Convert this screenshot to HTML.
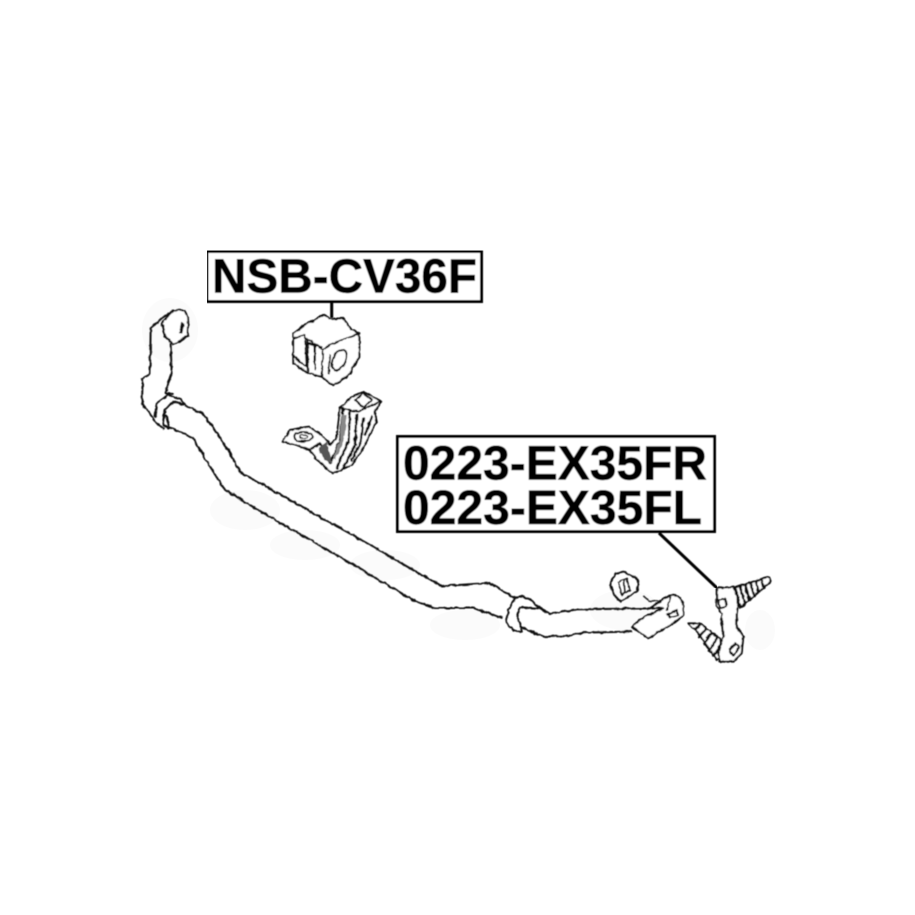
<!DOCTYPE html>
<html><head><meta charset="utf-8"><style>
html,body{margin:0;padding:0;background:#fff}
svg{display:block}
text{font-family:"Liberation Sans",Arial,sans-serif;font-weight:bold;font-size:48px;fill:#000;stroke:#000;stroke-width:.5}
.l{fill:none;stroke:#111;stroke-width:6;stroke-linejoin:round;stroke-linecap:round}
.d{fill:none;stroke:#111;stroke-width:8;stroke-linejoin:round;stroke-linecap:round}
.f{fill:#fff;stroke:#111;stroke-width:6;stroke-linejoin:round}
.t{fill:none;stroke:#111;stroke-width:4;stroke-linejoin:round;stroke-linecap:round}
.r{fill:none;stroke:#111;stroke-width:2;stroke-linejoin:round;stroke-linecap:round}
</style></head><body>
<svg width="915" height="915" viewBox="0 0 915 915" xmlns="http://www.w3.org/2000/svg">
<defs>
<filter id="b" x="0" y="0" width="100%" height="100%"><feGaussianBlur stdDeviation="0.45"/></filter>
<filter id="j" x="0" y="0" width="100%" height="100%" filterUnits="userSpaceOnUse" primitiveUnits="userSpaceOnUse">
<feTurbulence type="fractalNoise" baseFrequency="0.18" numOctaves="2" seed="4" result="n"/>
<feDisplacementMap in="SourceGraphic" in2="n" scale="3" xChannelSelector="R" yChannelSelector="G"/>
<feGaussianBlur stdDeviation="0.4"/>
</filter>
</defs>
<rect width="915" height="915" fill="#fff"/>
<g fill="#fbfbfb">
<ellipse cx="170" cy="330" rx="28" ry="32"/><ellipse cx="245" cy="510" rx="35" ry="20"/><ellipse cx="305" cy="545" rx="35" ry="15"/><ellipse cx="385" cy="565" rx="35" ry="15"/><ellipse cx="465" cy="625" rx="35" ry="15"/><ellipse cx="625" cy="610" rx="35" ry="20"/><ellipse cx="760" cy="630" rx="15" ry="20"/>
</g>

<g filter="url(#j)">
<!-- left arm, bushing, bracket -->
<g transform="translate(130 240) scale(.33333)">
<path class="l" d="M118,222 L98,232 L62,265 L60,400 L38,415 L36,490 L60,520 L75,545 L100,565"/>
<path class="l" d="M122,312 L125,400 L105,460 L130,462"/>
<path class="f" d="M95,250 L130,210 L165,212 L175,240 L172,290 L130,312 L105,290 Z"/>
<path d="M158,248 L152,280" stroke="#111" stroke-width="10" fill="none"/>
<path class="l" d="M75,530 L80,490 L115,465 L150,478 L165,495"/>
<path class="l" d="M100,555 L105,510 L130,485 L165,495"/>
<path class="l" d="M100,555 L118,565 L108,525"/>
<!-- bushing -->
<path class="f" d="M490,280 L530,250 L555,240 L580,225 L605,236 L640,235 L665,270 L688,280 L688,350 L660,400 L630,425 L610,437 L575,410 L535,400 L490,370 Z"/>
<path class="l" d="M530,295 L580,330 L575,410"/>
<path class="l" d="M580,330 L592,318 L660,290 L688,280"/>
<path class="l" d="M490,295 L525,285 L530,380"/>
<path class="l" d="M535,310 L575,320"/>
<path class="l" d="M555,315 L555,388"/>
<path class="l" d="M490,350 L530,380"/>
<path class="l" d="M532,295 L535,395"/>
<ellipse cx="628" cy="360" rx="19" ry="33" transform="rotate(25 628 360)" class="l"/>
<path class="l" d="M600,345 L596,400"/>
</g>

<!-- bracket, crop 5 -->
<g transform="translate(275 385) scale(.33333)">
<path class="f" d="M22,170 L45,135 L100,125 L140,150 L165,180 L185,160 L195,70 L230,35 L265,20 L320,50 L300,80 L305,110 L270,180 L230,240 L175,265 L130,230 L105,195 L60,180 Z"/>
<ellipse cx="85" cy="155" rx="27" ry="14" class="l"/>
<ellipse cx="85" cy="155" rx="12" ry="6" class="t"/>
<path class="d" d="M205,70 L195,170 L165,235"/>
<path class="d" d="M225,80 L220,170 L185,250"/>
<path class="d" d="M245,90 L240,180 L205,250"/>
<path class="d" d="M265,100 L258,170 L230,225"/>
<path class="d" d="M290,95 L270,150"/>
<path class="l" d="M195,70 L250,80 L315,50"/>
<path class="l" d="M240,45 L265,68 L292,45 L265,25 Z"/>
<path class="d" d="M110,190 L135,175 L165,235"/>
<path d="M130,190 L155,170 L172,235 L150,225 Z" fill="#555"/>
<path d="M200,90 L215,90 L205,170 L180,225 L175,215 L195,165 Z" fill="#888"/>
</g>

<!-- main bar -->
<path fill="none" stroke="#111" stroke-width="2" stroke-linejoin="round" d="M185,406 L202,413 L215,430 L230,453 L240,472 L267,487 L313,513 L367,543 L413,570 L442,586 L490,583 L515,598"/>
<path fill="none" stroke="#111" stroke-width="2" stroke-linejoin="round" d="M169,427 L187,435 L193,438 L210,467 L225,490 L270,517 L340,557 L413,600 L435,608 L473,608 L503,618"/>

<!-- right part, crop 2 -->
<g transform="translate(400 520) scale(.33333)">
<path class="l" d="M365,262 L420,265 L450,282 L530,268 L750,265"/>
<path class="l" d="M360,320 L430,350 L510,348 L545,338 L695,335"/>
<path class="l" d="M345,235 L325,270 L320,310 L340,330 L365,335"/>
<path class="l" d="M345,235 L370,228 L400,245 L420,265"/>
<path class="l" d="M360,262 L352,290 L365,330"/>
<path class="f" d="M750,265 L810,225 L835,228 L850,250 L850,285 L835,300 L745,355 L695,320 L725,295 L790,265 Z"/>
<path class="l" d="M800,270 L812,228"/>
<path class="l" d="M802,282 L830,270 L836,285 L810,293 Z"/>
<path class="t" d="M730,228 L750,245 L790,240"/>
<!-- nut -->
<path class="l" d="M630,195 L645,160 L670,155 L690,165 L715,180 L712,215 L690,225 L665,245 L645,230 Z"/>
<path class="t" d="M655,185 L680,175 L690,210 L665,225 Z"/>
<path class="t" d="M672,180 L675,220"/>
</g>

<!-- end link, crop 4 -->
<g transform="translate(680 570)">
<g transform="scale(.33333)">
<path class="f" d="M160,55 L265,20 L272,35 L180,115 Z"/>
<path class="d" d="M165,55 L182,110 M180,50 L195,100 M196,45 L208,90 M212,40 L222,78 M228,34 L236,66 M244,28 L250,52"/>
<path class="f" d="M25,160 L60,160 L120,205 L132,250 L110,270 L55,190 Z"/>
<path class="d" d="M60,165 L45,180 M78,175 L58,200 M95,190 L72,220 M110,205 L88,240 M125,225 L100,258"/>
<path class="f" d="M110,55 L160,50 L175,100 L170,130 L170,170 L190,200 L185,250 L160,275 L120,275 L115,250 L130,200 L125,150 L125,130 L110,110 Z"/>
<path class="l" d="M115,90 L135,85 L140,110 L120,115 Z"/>
<path class="l" d="M150,240 L165,220 L178,230 L160,258 Z"/>
</g>
</g>
</g>

<g filter="url(#b)">
<!-- leaders -->
<path d="M331.7,302 L331.7,318" stroke="#000" stroke-width="3"/>
<path d="M659,533 L717,588" stroke="#000" stroke-width="3"/>
<!-- labels -->
<rect x="207" y="251.500" width="274.500" height="50" fill="#fff" stroke="#000" stroke-width="3"/>
<text x="212" y="292.700" textLength="265" lengthAdjust="spacingAndGlyphs">NSB-CV36F</text>
<rect x="397.500" y="436.500" width="317" height="95" fill="#fff" stroke="#000" stroke-width="3"/>
<text x="403" y="479.500" textLength="304" lengthAdjust="spacingAndGlyphs">0223-EX35FR</text>
<text x="403" y="524" textLength="299" lengthAdjust="spacingAndGlyphs">0223-EX35FL</text>
</g>
</svg>
</body></html>
